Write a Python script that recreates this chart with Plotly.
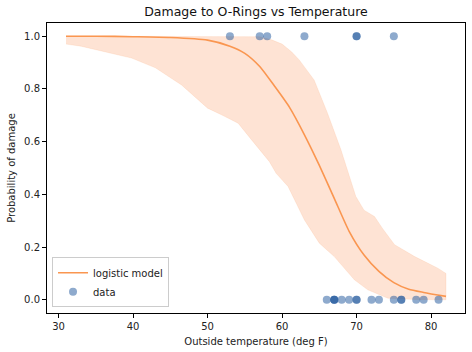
import plotly.graph_objects as go

# Observed flights: outside temperature and damage (0/1)
temps = [66, 70, 69, 68, 67, 72, 73, 70, 57, 63, 70, 78, 67, 53, 67, 75, 70, 81, 76, 79, 75, 76, 58]
damage = [0, 1, 0, 0, 0, 0, 0, 0, 1, 1, 1, 0, 0, 1, 0, 0, 0, 0, 0, 0, 1, 0, 1]

# Logistic model posterior mean
grid_x = [31, 35, 40, 45, 50, 53, 55, 57, 59, 61, 63, 65, 67, 69, 71, 73, 75, 77, 79, 82]
mean_p = [1.0, 1.0, 0.998, 0.995, 0.985, 0.962, 0.935, 0.885, 0.81, 0.73, 0.626, 0.51, 0.385,
          0.26, 0.17, 0.108, 0.065, 0.04, 0.028, 0.013]

# Credible band edges
upper_x = [31, 40, 50, 55, 57, 58.6, 60, 61.3, 62.3, 64.3, 66.1, 67.9, 69.9, 71, 72.4, 73.5, 75.1, 77.8, 80.9, 82]
upper_p = [1.0, 1.0, 1.0, 1.0, 0.998, 0.986, 0.97, 0.94, 0.91, 0.834, 0.708, 0.569, 0.392, 0.34,
           0.316, 0.27, 0.209, 0.164, 0.12, 0.10]
lower_x = [31, 33, 35.7, 39.8, 43, 46.5, 50, 52, 54.1, 56.1, 58.3, 59.2, 60.8, 63, 65, 67, 69.7,
           71.5, 74.2, 78, 82]
lower_p = [0.97, 0.962, 0.945, 0.917, 0.88, 0.815, 0.727, 0.70, 0.67, 0.60, 0.524, 0.48, 0.43,
           0.303, 0.215, 0.164, 0.076, 0.038, 0.006, 0.001, 0.0]

x_ticks = [30, 40, 50, 60, 70, 80]
y_ticks = [0.0, 0.2, 0.4, 0.6, 0.8, 1.0]

line_color = "rgb(250,150,80)"
fig = go.Figure()

fig.add_trace(go.Scatter(
    x=upper_x + lower_x[::-1], y=upper_p + lower_p[::-1],
    fill="toself", fillcolor="rgba(250,140,75,0.24)",
    line=dict(color="rgba(250,140,75,0.12)", width=1),
    mode="lines", showlegend=False, hoverinfo="skip"))

fig.add_trace(go.Scatter(
    x=grid_x, y=mean_p, mode="lines", name="logistic model",
    line=dict(color=line_color, width=1.6, shape="spline", smoothing=0.6)))

fig.add_trace(go.Scatter(
    x=temps, y=damage, mode="markers", name="data",
    marker=dict(color="rgba(30,85,155,0.5)", size=8, line=dict(width=0))))

axis_common = dict(
    showline=True, linecolor="black", linewidth=1, mirror=True,
    ticks="outside", ticklen=4, tickcolor="black", tickwidth=1,
    showgrid=False, zeroline=False,
    tickfont=dict(family="DejaVu Sans", size=10, color="#222"),
)

fig.update_layout(
    width=472, height=352,
    margin=dict(l=47, r=7, t=23, b=39),
    paper_bgcolor="white", plot_bgcolor="white",
    font=dict(family="DejaVu Sans", size=10, color="#222"),
    title=dict(text="Damage to O-Rings vs Temperature", x=(47 + 465) / 2 / 472, xanchor="center",
               y=1 - 12 / 352, yanchor="middle", yref="container",
               font=dict(family="DejaVu Sans", size=12.5, color="#111")),
    xaxis=dict(range=[28.45, 84.55], tickvals=x_ticks,
               title=dict(text="Outside temperature (deg F)", standoff=6,
                          font=dict(family="DejaVu Sans", size=10)), **axis_common),
    yaxis=dict(range=[-0.05, 1.05], tickvals=y_ticks, tickformat=".1f",
               title=dict(text="Probability of damage", standoff=6,
                          font=dict(family="DejaVu Sans", size=10)), **axis_common),
    legend=dict(x=0.012, y=0.02, xanchor="left", yanchor="bottom",
                bgcolor="rgba(255,255,255,0.8)", bordercolor="#ccc", borderwidth=1,
                font=dict(family="DejaVu Sans", size=10, color="#222"),
                tracegroupgap=0, itemwidth=30),
)

fig.write_html("out.html")
